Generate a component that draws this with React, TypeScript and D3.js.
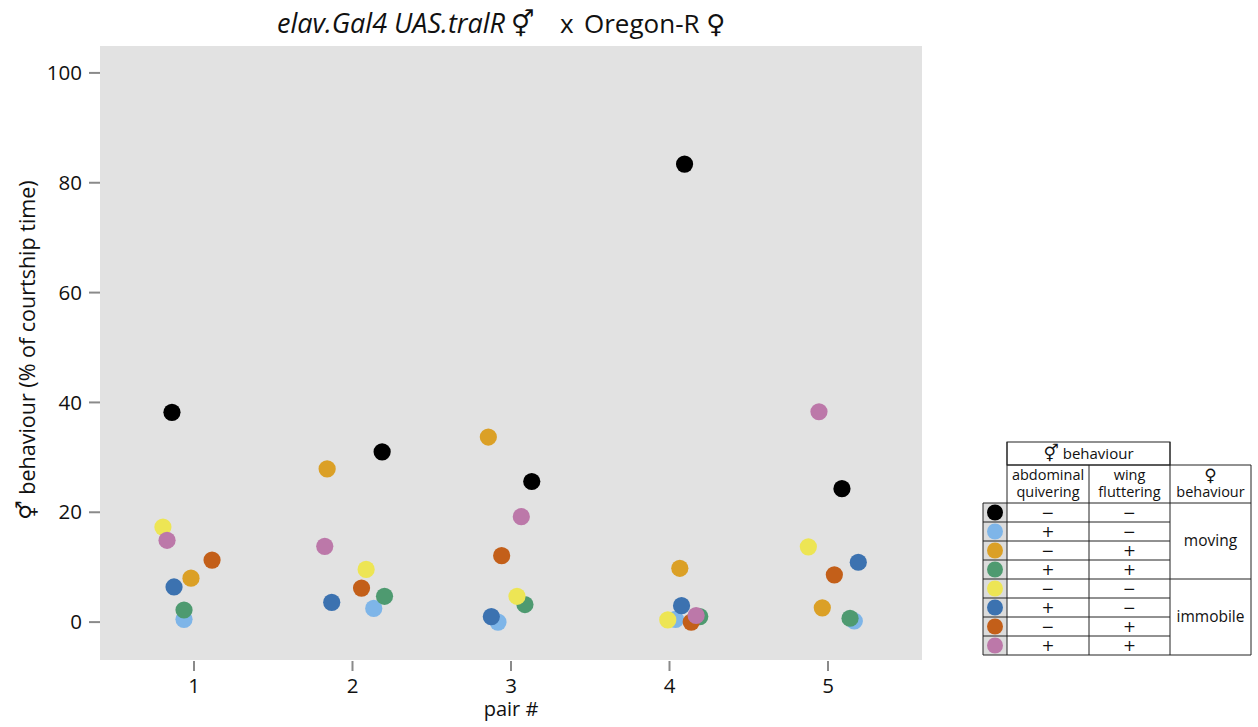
import React from "react";
import * as d3 from "d3";

// pair numbers on the x axis
const pairs = [1, 2, 3, 4, 5];
const yTicks = [0, 20, 40, 60, 80, 100];

// behaviour categories (legend order = draw order)
const categoryColors = ["#000000", "#7eb5e8", "#dba026", "#4e9a70", "#ede554", "#3c72b0", "#c35f19", "#bc78a9"];
const abdominalQuivering = ["−", "+", "−", "+", "−", "+", "−", "+"];
const wingFluttering = ["−", "−", "+", "+", "−", "−", "+", "+"];
const femaleGroups = ["moving", "immobile"];

// % of courtship time, per category, per pair
const values = [
  [38.2, 31.0, 25.6, 83.4, 24.3],
  [0.5, 2.5, 0, 0.5, 0.2],
  [8.0, 27.9, 33.7, 9.8, 2.6],
  [2.2, 4.7, 3.2, 1.0, 0.7],
  [17.3, 9.6, 4.7, 0.4, 13.7],
  [6.4, 3.6, 1.0, 3.0, 10.9],
  [11.3, 6.2, 12.1, 0, 8.6],
  [14.9, 13.8, 19.2, 1.2, 38.3],
];

// horizontal jitter (in pair units), per category, per pair
const jitter = [
  [-0.139, 0.187, 0.131, 0.095, 0.088],
  [-0.063, 0.134, -0.082, 0.038, 0.166],
  [-0.019, -0.16, -0.143, 0.065, -0.036],
  [-0.063, 0.202, 0.088, 0.191, 0.139],
  [-0.196, 0.086, 0.038, -0.011, -0.124],
  [-0.126, -0.131, -0.124, 0.076, 0.191],
  [0.114, 0.057, -0.059, 0.137, 0.04],
  [-0.17, -0.175, 0.065, 0.168, -0.057],
];

const FONT = "'Open Sans', 'DejaVu Sans', sans-serif";

const App = () => {
  const panel = { left: 100, right: 922, top: 46, bottom: 660 };
  const x = d3.scaleLinear().domain([0.407, 5.593]).range([panel.left, panel.right]);
  const y = d3.scaleLinear().domain([-6.9, 104.9]).range([panel.bottom, panel.top]);

  const points = values.flatMap((row, c) =>
    row.map((v, p) => ({ c, v, px: pairs[p] + jitter[c][p] }))
  );

  // legend table geometry
  const colX = [983, 1007, 1089, 1170, 1251];
  const rowTop = 503;
  const rowH = 19;
  const nRows = categoryColors.length;
  const tableBottom = rowTop + rowH * nRows;
  const line = { stroke: "#222", strokeWidth: 1 };

  return (
    <svg
      width={1258}
      height={727}
      style={{ position: "absolute", left: 0, top: 0, background: "#fff" }}
      fontFamily={FONT}
    >
      <g fontSize={26} fill="#111">
        <text x={277} y={33} fontStyle="italic" fontSize={27}>elav.Gal4 UAS.tralR</text>
        <text x={511} y={33}>⚥</text>
        <text x={560} y={33}>x</text>
        <text x={584} y={33}>Oregon-R ♀</text>
      </g>

      <rect x={panel.left} y={panel.top} width={panel.right - panel.left} height={panel.bottom - panel.top} fill="#e2e2e2" />

      {yTicks.map((t) => (
        <g key={t}>
          <line x1={89} x2={panel.left} y1={y(t)} y2={y(t)} stroke="#8a8a8a" strokeWidth={2} />
          <text x={82} y={y(t)} dy="0.35em" textAnchor="end" fontSize={20.5} fill="#111">
            {t}
          </text>
        </g>
      ))}

      {pairs.map((p) => (
        <g key={p}>
          <line x1={x(p)} x2={x(p)} y1={panel.bottom + 1} y2={panel.bottom + 11} stroke="#8a8a8a" strokeWidth={2} />
          <text x={x(p)} y={693} textAnchor="middle" fontSize={20.5} fill="#111">
            {p}
          </text>
        </g>
      ))}

      <text x={x(3)} y={716} textAnchor="middle" fontSize={20} fill="#111">
        pair #
      </text>

      <text transform="translate(35,350) rotate(-90)" textAnchor="middle" fontSize={21.5} fill="#111">
        ⚥ behaviour (% of courtship time)
      </text>

      {points.map((d, i) => (
        <circle key={i} cx={x(d.px)} cy={y(d.v)} r={8.6} fill={categoryColors[d.c]} />
      ))}

      {/* legend table */}
      <g fontSize={14.5} fill="#111">
        <rect x={colX[0]} y={rowTop} width={colX[1] - colX[0]} height={tableBottom - rowTop} fill="#dcdcdc" />
        <rect x={colX[1]} y={442} width={colX[3] - colX[1]} height={23} fill="none" {...line} />
        <line x1={colX[1]} x2={colX[4]} y1={465} y2={465} {...line} />
        <line x1={colX[0]} x2={colX[4]} y1={rowTop} y2={rowTop} {...line} />
        <line x1={colX[0]} x2={colX[4]} y1={tableBottom} y2={tableBottom} {...line} />
        <line x1={colX[0]} x2={colX[0]} y1={rowTop} y2={tableBottom} {...line} />
        <line x1={colX[1]} x2={colX[1]} y1={442} y2={tableBottom} {...line} />
        <line x1={colX[2]} x2={colX[2]} y1={465} y2={tableBottom} {...line} />
        <line x1={colX[3]} x2={colX[3]} y1={442} y2={tableBottom} {...line} />
        <line x1={colX[4]} x2={colX[4]} y1={465} y2={tableBottom} {...line} />
        {d3.range(1, nRows).map((k) => (
          <line
            key={k}
            x1={colX[0]}
            x2={k === nRows / 2 ? colX[4] : colX[3]}
            y1={rowTop + k * rowH}
            y2={rowTop + k * rowH}
            {...line}
          />
        ))}

        <text x={(colX[1] + colX[3]) / 2} y={459} textAnchor="middle" fontSize={15}>
          <tspan fontSize={17}>⚥</tspan> behaviour
        </text>
        <text x={(colX[1] + colX[2]) / 2} y={480} textAnchor="middle">abdominal</text>
        <text x={(colX[1] + colX[2]) / 2} y={497} textAnchor="middle">quivering</text>
        <text x={(colX[2] + colX[3]) / 2} y={480} textAnchor="middle">wing</text>
        <text x={(colX[2] + colX[3]) / 2} y={497} textAnchor="middle">fluttering</text>
        <text x={(colX[3] + colX[4]) / 2} y={481} textAnchor="middle" fontSize={17}>♀</text>
        <text x={(colX[3] + colX[4]) / 2} y={497} textAnchor="middle">behaviour</text>

        {categoryColors.map((col, i) => {
          const cy = rowTop + rowH * (i + 0.5);
          return (
            <g key={i}>
              <circle cx={(colX[0] + colX[1]) / 2} cy={cy} r={8} fill={col} />
              <text x={(colX[1] + colX[2]) / 2} y={cy} dy="0.36em" textAnchor="middle" fontSize={15.5} fontFamily="'DejaVu Sans', sans-serif">
                {abdominalQuivering[i]}
              </text>
              <text x={(colX[2] + colX[3]) / 2} y={cy} dy="0.36em" textAnchor="middle" fontSize={15.5} fontFamily="'DejaVu Sans', sans-serif">
                {wingFluttering[i]}
              </text>
            </g>
          );
        })}

        {femaleGroups.map((g, i) => (
          <text
            key={g}
            x={(colX[3] + colX[4]) / 2}
            y={rowTop + rowH * (nRows / 2) * (i + 0.5)}
            dy="0.35em"
            textAnchor="middle"
            fontSize={15.5}
          >
            {g}
          </text>
        ))}
      </g>
    </svg>
  );
};

export default App;
